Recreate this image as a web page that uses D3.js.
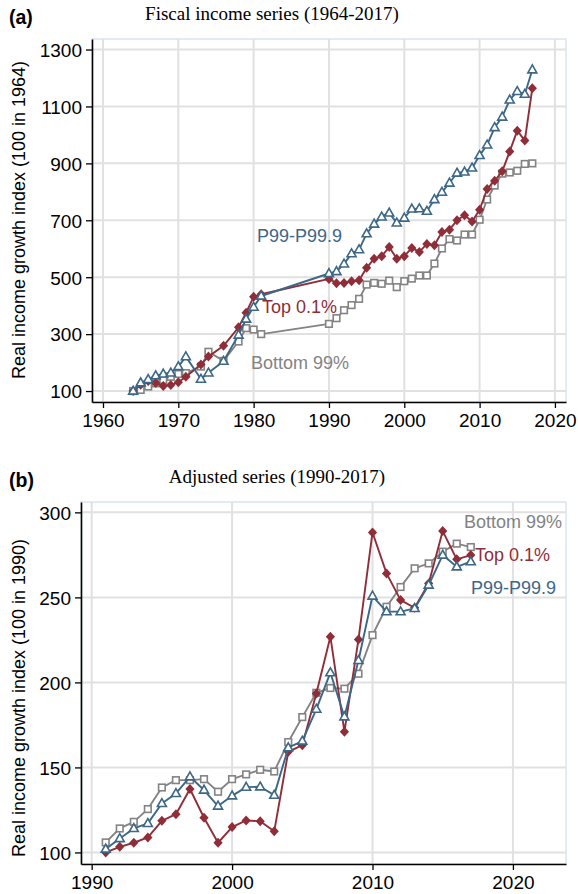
<!DOCTYPE html>
<html><head><meta charset="utf-8">
<script src="https://cdn.jsdelivr.net/npm/d3@7"></script>
<style>
body{margin:0;background:#fff;}
svg{display:block;font-family:"Liberation Sans",Arial,sans-serif;}
</style></head>
<body>
<svg id="c" width="578" height="894"></svg>
<script>
// ---------- DATA ----------
const yearsA = [1964,1965,1966,1967,1968,1969,1970,1971,1973,1974,1976,1978,1979,1980,1981,
  1990,1991,1992,1993,1994,1995,1996,1997,1998,1999,2000,2001,2002,2003,2004,2005,2006,2007,2008,2009,2010,2011,2012,2013,2014,2015,2016,2017];
const topA = [100,122,135,128,118,121,131,150,193,221,259,324,375,431,440,
  494,479,480,486,489,533,565,574,606,565,574,603,589,617,612,659,667,700,718,696,737,810,839,872,942,1015,980,1164];
const p99A = [100,129,141,154,160,164,186,221,142,164,205,297,353,395,434,
  513,520,547,583,597,653,687,712,726,691,708,740,741,732,773,799,831,866,870,884,928,965,1026,1063,1123,1153,1143,1229];
const bottomA = [100,104,116,127,139,150,160,163,186,238,206,274,321,316,300,
  336,356,384,402,424,474,480,477,488,465,486,495,506,506,548,601,634,629,650,650,702,773,822,864,868,874,898,900];

const yearsB = [1991,1992,1993,1994,1995,1996,1997,1998,1999,2000,2001,2002,2003,2004,2005,2006,2007,2008,2009,2010,2011,2012,2013,2014,2015,2016,2017];
const topB = [100,103.3,105.7,108.8,118.6,122.5,137.3,120.4,105.7,114.9,118.8,118.4,112.4,159.2,163.1,193.5,226.9,171.0,225.3,288.2,264.1,248.4,243.9,258.2,289.0,272.4,274.9];
const p99B = [102.0,108.2,114.1,117.1,128.8,134.7,144.5,136.7,127.3,133.3,138.4,138.6,133.7,161.6,165.5,184.3,205.7,179.8,212.9,250.8,241.6,241.6,243.5,257.3,274.9,268.0,271.0];
const bottomB = [105.9,114.1,118.0,125.5,138.2,142.5,142.5,143.1,135.7,143.1,145.9,148.6,147.6,164.9,179.6,193.9,196.7,196.3,205.1,227.8,244.5,256.1,267.1,270.0,276.9,281.6,279.6];

const xTicksA = [1960,1970,1980,1990,2000,2010,2020];
const yTicksA = [100,300,500,700,900,1100,1300];
const xTicksB = [1990,2000,2010,2020];
const yTicksB = [100,150,200,250,300];

const seriesNames = ["Top 0.1%","P99-P99.9","Bottom 99%"];
// ---------- STYLE ----------
const C = {top:"#8f2e38", p99:"#3c6787", bottom:"#838383"};
const svg = d3.select("#c");

function panel(cfg){
  const g = svg.append("g");
  const x = d3.scaleLinear().domain(cfg.xDom).range([cfg.left, cfg.right]);
  const y = d3.scaleLinear().domain(cfg.yDom).range([cfg.bottom, cfg.top]);
  g.append("rect").attr("x",cfg.left).attr("y",cfg.top).attr("width",cfg.right-cfg.left).attr("height",cfg.bottom-cfg.top)
    .attr("fill","none").attr("stroke","#dbe5ec").attr("stroke-width",1.5);
  g.selectAll(".gx").data(cfg.xTicks).join("line")
    .attr("x1",d=>x(d)).attr("x2",d=>x(d)).attr("y1",cfg.top).attr("y2",cfg.bottom)
    .attr("stroke","#e1e1e1").attr("stroke-width",2);
  g.selectAll(".gy").data(cfg.yTicks).join("line")
    .attr("y1",d=>y(d)).attr("y2",d=>y(d)).attr("x1",cfg.left).attr("x2",cfg.right)
    .attr("stroke","#e1e1e1").attr("stroke-width",2);
  const ax = g.append("g").attr("transform",`translate(0,${cfg.bottom})`)
    .call(d3.axisBottom(x).tickValues(cfg.xTicks).tickFormat(d3.format("d")).tickSize(6).tickSizeOuter(0));
  const ay = g.append("g").attr("transform",`translate(${cfg.left},0)`)
    .call(d3.axisLeft(y).tickValues(cfg.yTicks).tickFormat(d3.format("d")).tickSize(6).tickSizeOuter(0));
  [ax,ay].forEach(a=>{
    a.select(".domain").attr("stroke","#000").attr("stroke-width",1.6);
    a.selectAll(".tick line").attr("stroke","#000").attr("stroke-width",1.3);
    a.selectAll("text").attr("font-size",19).attr("fill","#000").attr("font-family","Liberation Sans, Arial, sans-serif");
  });
  ax.selectAll("text").attr("dy","0.84em");
  ay.selectAll("text").attr("dx","-1px").attr("dy","0.36em");
  g.append("text").attr("transform",`translate(25,${cfg.yTitleY}) rotate(-90)`)
    .attr("text-anchor","middle").attr("font-size",18).attr("fill","#000").text(cfg.yTitle);
  g.append("text").attr("x",9).attr("y",cfg.letterY).attr("font-size",19.5).attr("font-weight","bold").attr("fill","#000").text(cfg.letter);
  g.append("text").attr("x",cfg.titleX).attr("y",cfg.titleY).attr("text-anchor","middle")
    .attr("font-family","Liberation Serif, Times New Roman, serif").attr("font-size",19).attr("fill","#000").text(cfg.title);

  const line = d3.line().x(d=>x(d[0])).y(d=>y(d[1]));
  const plot = g.append("g");
  const S = [
    {key:"bottom", vals:cfg.bottomV, shape:"square"},
    {key:"top", vals:cfg.topV, shape:"diamond"},
    {key:"p99", vals:cfg.p99V, shape:"triangle"}
  ];
  S.forEach(s=>{
    const pts = cfg.years.map((yr,i)=>[yr,s.vals[i]]);
    plot.append("path").datum(pts).attr("d",line).attr("fill","none").attr("stroke",C[s.key]).attr("stroke-width",1.9).attr("stroke-linejoin","round");
    const m = plot.append("g");
    pts.forEach(p=>{
      const px=x(p[0]), py=y(p[1]);
      if(s.shape==="square"){
        m.append("rect").attr("x",px-3.3).attr("y",py-3.3).attr("width",6.6).attr("height",6.6)
          .attr("fill","#fff").attr("stroke",C[s.key]).attr("stroke-width",1.6);
      } else if(s.shape==="diamond"){
        m.append("path").attr("d",`M${px},${py-5}L${px+4.6},${py}L${px},${py+5}L${px-4.6},${py}Z`).attr("fill",C[s.key]);
      } else {
        m.append("path").attr("d",`M${px},${py-4.8}L${px+4.5},${py+3.1}L${px-4.5},${py+3.1}Z`)
          .attr("fill","#fff").attr("stroke",C[s.key]).attr("stroke-width",1.6).attr("stroke-linejoin","miter");
      }
    });
  });
  cfg.labels.forEach(l=>{
    g.append("text").attr("x",l.x).attr("y",l.y).attr("font-size",18).attr("fill",C[l.key]).text(l.text);
  });
}

panel({
  left:92,right:566,top:39,bottom:402,
  xDom:[1958.54,2021.47], yDom:[61.5,1337],
  xTicks:xTicksA, yTicks:yTicksA,
  years:yearsA, topV:topA, p99V:p99A, bottomV:bottomA,
  yTitle:"Real income growth index (100 in 1964)", yTitleY:220,
  letter:"(a)", letterY:23.5, title:"Fiscal income series (1964-2017)", titleX:272, titleY:20,
  labels:[{key:"p99",text:seriesNames[1],x:257,y:242},{key:"top",text:seriesNames[0],x:262,y:313},{key:"bottom",text:seriesNames[2],x:251,y:369}]
});
panel({
  left:81,right:566,top:502,bottom:864,
  xDom:[1989.24,2023.78], yDom:[93.2,306.1],
  xTicks:xTicksB, yTicks:yTicksB,
  years:yearsB, topV:topB, p99V:p99B, bottomV:bottomB,
  yTitle:"Real income growth index (100 in 1990)", yTitleY:698,
  letter:"(b)", letterY:487, title:"Adjusted series (1990-2017)", titleX:277, titleY:483,
  labels:[{key:"bottom",text:seriesNames[2],x:464,y:528},{key:"top",text:seriesNames[0],x:475,y:561},{key:"p99",text:seriesNames[1],x:471,y:594}]
});
</script>
</body></html>
